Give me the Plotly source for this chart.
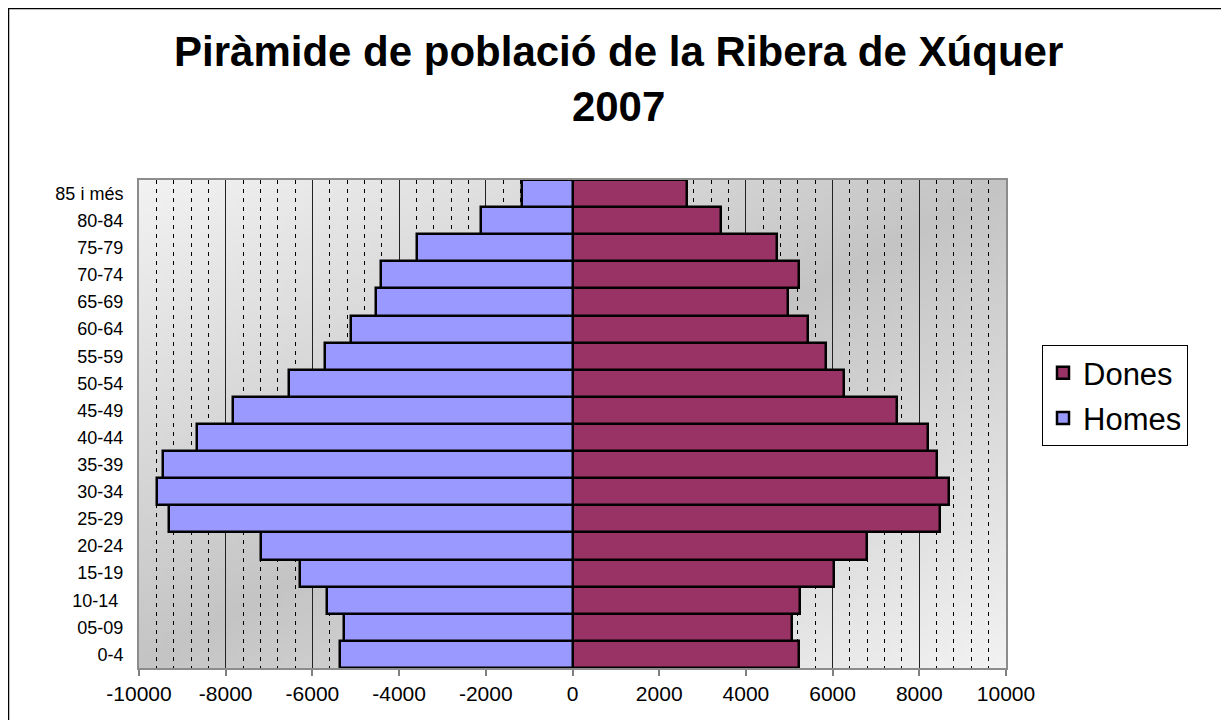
import base64
import struct
import zlib

import plotly.graph_objects as go

# ---------------- data ----------------
age_groups = ["0-4", "05-09", "10-14\u00a0", "15-19", "20-24", "25-29", "30-34", "35-39",
              "40-44", "45-49", "50-54", "55-59", "60-64", "65-69", "70-74", "75-79",
              "80-84", "85 i més"]
homes = [5354, 5261, 5661, 6291, 7191, 9314, 9576, 9445, 8653, 7837, 6537, 5700,
         5107, 4523, 4422, 3584, 2100, 1154]
dones = [5224, 5054, 5247, 6032, 6800, 8485, 8685, 8416, 8201, 7493, 6262, 5854,
         5439, 4977, 5224, 4716, 3431, 2631]
x_tick_vals = [-10000, -8000, -6000, -4000, -2000, 0, 2000, 4000, 6000, 8000, 10000]
x_tick_text = ["-10000", "-8000", "-6000", "-4000", "-2000", "0", "2000", "4000",
               "6000", "8000", "10000"]

title_text = "<b>Piràmide de població de la Ribera de Xúquer<br>2007</b>"
FONT = "Liberation Sans, Arial, sans-serif"


# ---------------- gradient background (PNG data URI) ----------------
def gradient_png(w=200, h=100, dark=196, light=242):
    rows = b""
    for j in range(h):
        v = j / (h - 1)
        row = bytearray([0])
        for i in range(w):
            u = i / (w - 1)
            d = abs(u + v - 1.0)
            row.append(int(round(dark + (light - dark) * d)))
        rows += bytes(row)

    def chunk(tag, data):
        c = struct.pack(">I", len(data)) + tag + data
        return c + struct.pack(">I", zlib.crc32(tag + data) & 0xFFFFFFFF)

    png = b"\x89PNG\r\n\x1a\n"
    png += chunk(b"IHDR", struct.pack(">IIBBBBB", w, h, 8, 0, 0, 0, 0))
    png += chunk(b"IDAT", zlib.compress(rows, 9))
    png += chunk(b"IEND", b"")
    return "data:image/png;base64," + base64.b64encode(png).decode()


bg_uri = gradient_png()

# ---------------- figure geometry ----------------
# page has an 8px body margin, so the figure starts at page (8, 8)
OFF = 8
W, H = 1221, 712
plot_l, plot_r, plot_t, plot_b = 139 - OFF, 1006 - OFF, 180 - OFF, 668 - OFF
ml, mr, mt, mb = plot_l, W - plot_r, plot_t, H - plot_b
pw, ph = plot_r - plot_l, plot_b - plot_t


def fx(page_x):
    return (page_x - OFF - ml) / pw


def fy(page_y):
    return (H - mb - (page_y - OFF)) / ph


fig = go.Figure()
fig.add_trace(go.Bar(
    y=age_groups, x=dones, orientation="h", name="Dones",
    marker=dict(color="#993366", line=dict(color="#000000", width=2.5)),
    legendgroup="d",
))
fig.add_trace(go.Bar(
    y=age_groups, x=[-v for v in homes], orientation="h", name="Homes",
    marker=dict(color="#9999FF", line=dict(color="#000000", width=2.5)),
    legendgroup="h",
))

fig.update_layout(
    width=W, height=H,
    margin=dict(l=ml, r=mr, t=mt, b=mb, pad=0),
    paper_bgcolor="white",
    plot_bgcolor="rgba(0,0,0,0)",
    barmode="relative",
    bargap=0,
    font=dict(family=FONT, color="#000000"),
    legend=dict(
        x=fx(1042), y=fy(345), xanchor="left", yanchor="top",
        bgcolor="white", bordercolor="#000000", borderwidth=1,
        font=dict(family=FONT, size=31, color="#000000"),
        traceorder="grouped", tracegroupgap=2,
        itemwidth=30,
    ),
    xaxis=dict(
        range=[-10000, 10000],
        tickmode="array", tickvals=x_tick_vals, ticktext=x_tick_text,
        tickfont=dict(family=FONT, size=21, color="#000000"),
        ticks="outside", ticklen=6, tickwidth=2, tickcolor="#808080",
        showgrid=True, gridcolor="#222222", gridwidth=1,
        zeroline=False,
        showline=True, linecolor="#8c8c8c", linewidth=2, mirror=True,
        minor=dict(tickmode="linear", tick0=0, dtick=400, showgrid=True,
                   gridcolor="#000000", gridwidth=1, griddash="4px,5px",
                   ticks=""),
        fixedrange=True,
    ),
    yaxis=dict(
        type="category",
        categoryorder="array", categoryarray=age_groups,
        tickfont=dict(family=FONT, size=18, color="#000000"),
        ticks="outside", ticklen=10, tickcolor="rgba(0,0,0,0)",
        showgrid=False, zeroline=False,
        showline=True, linecolor="#8c8c8c", linewidth=2, mirror=True,
        fixedrange=True,
    ),
    images=[dict(
        source=bg_uri, xref="paper", yref="paper",
        x=0, y=1, sizex=1, sizey=1, xanchor="left", yanchor="top",
        sizing="stretch", layer="below",
    )],
    annotations=[dict(
        text=title_text, xref="paper", yref="paper",
        x=fx(618), y=fy(79), xanchor="center", yanchor="middle",
        showarrow=False, align="center",
        font=dict(family=FONT, size=42, color="#000000"),
    )],
    shapes=[dict(
        type="rect", xref="paper", yref="paper",
        x0=fx(8.5), x1=fx(1225), y0=fy(740), y1=fy(8.5),
        line=dict(color="#000000", width=1.5), fillcolor="rgba(0,0,0,0)",
        layer="above",
    )],
)

fig.write_html("out.html")
